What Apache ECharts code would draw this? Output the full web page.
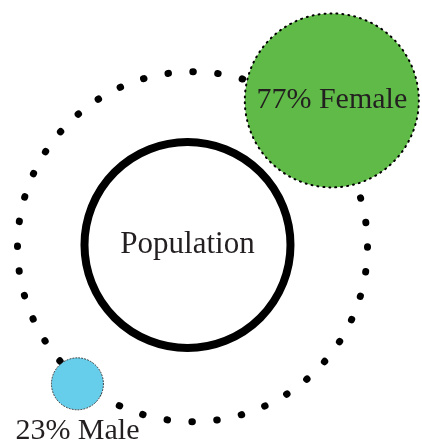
<!DOCTYPE html>
<html>
<head>
<meta charset="utf-8">
<script src="https://cdn.jsdelivr.net/npm/echarts@6/dist/echarts.min.js"></script>
<style>
  html, body { margin: 0; padding: 0; background: #fff; }
  #chart { width: 422px; height: 444px; }
</style>
</head>
<body>
<div id="chart"></div>
<script>
// data
const centerLabel = 'Population'
const categories = ['Female', 'Male']
const shares = [77, 23]

// layout (polar: distance from orbit centre in px, angle in degrees)
const orbitRadius = 175
const orbitDots = 44
const orbitDist = [202, 179]
const orbitAngle = [46.4, 230]
const colors = ['#5fba47', '#66cdea']
const font = 'Liberation Serif'

let dom = echarts.init(document.getElementById('chart'))

let items = [{
  name: centerLabel,
  value: [5.3, 161],
  symbolSize: 206,
  itemStyle: { color: '#fff', borderColor: '#000', borderWidth: 8 },
  label: { show: true, position: 'inside', fontSize: 31, formatter: centerLabel }
}]
categories.forEach((c, i) => {
  items.push({
    name: c,
    value: [orbitDist[i], orbitAngle[i]],
    symbolSize: shares[i] * 2.26,
    itemStyle: {
      color: colors[i],
      borderColor: i === 0 ? '#000' : '#333',
      borderWidth: i === 0 ? 2 : 1,
      borderType: i === 0 ? [1, 5] : [1, 2],
      borderCap: 'round'
    },
    label: {
      show: true,
      position: i === 0 ? 'inside' : 'bottom',
      distance: 6,
      formatter: shares[i] + '% ' + c
    }
  })
})

let period = 2 * Math.PI * orbitRadius / orbitDots

let option = {
  animation: false,
  polar: {
    center: [192.5, 246.7],
    radius: orbitRadius
  },
  radiusAxis: {
    type: 'value',
    min: 0,
    max: orbitRadius,
    show: false
  },
  angleAxis: {
    type: 'value',
    min: 0,
    max: 360,
    startAngle: 0,
    clockwise: false,
    axisLine: {
      show: true,
      lineStyle: {
        color: '#000',
        width: 7,
        type: [0.5, period - 0.5],
        cap: 'round'
      }
    },
    axisTick: { show: false },
    axisLabel: { show: false },
    splitLine: { show: false }
  },
  series: [{
    type: 'scatter',
    coordinateSystem: 'polar',
    symbol: 'circle',
    clip: false,
    itemStyle: { opacity: 1 },
    label: {
      color: '#231f20',
      fontFamily: font,
      fontSize: 30
    },
    emphasis: { disabled: true },
    data: items
  }]
}

dom.setOption(option)
</script>
</body>
</html>
